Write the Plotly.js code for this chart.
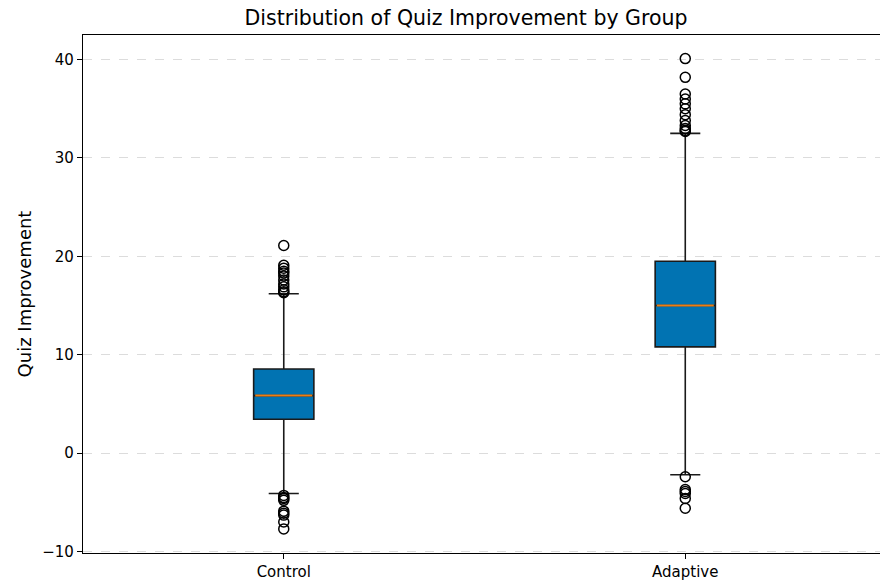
<!DOCTYPE html>
<html>
<head>
<meta charset="utf-8">
<script src="https://cdn.plot.ly/plotly-3.0.1.min.js"></script>
<style>
html,body{margin:0;padding:0;background:#fff;overflow:hidden;}
#chart{width:880px;height:581px;}
</style>
</head>
<body>
<div id="chart"></div>
<script>
// ---- data ----
const groups = ["Control", "Adaptive"];
const positions = [1, 2];
const q1 = [3.45, 10.8];
const medians = [5.85, 15.0];
const q3 = [8.55, 19.5];
const lowerWhisker = [-4.1, -2.2];
const upperWhisker = [16.2, 32.5];
const controlOutliers = [21.1, 19.1, 18.8, 18.5, 18.3, 18.0, 17.6, 17.2, 16.9, 16.6, 16.4, 16.3,
                         -4.3, -4.5, -4.6, -4.8, -5.9, -6.1, -6.3, -7.0, -7.7];
const adaptiveOutliers = [40.1, 38.2, 36.5, 36.0, 35.5, 35.0, 34.4, 33.8, 33.3, 33.0, 32.8, 32.7,
                          -2.4, -3.7, -3.9, -4.1, -4.6, -5.6];
const outliers = [controlOutliers, adaptiveOutliers];

const boxWidth = 0.15;
const boxColor = "#0173b2";
const medianColor = "#ef7d10";

const traces = [{
  type: "box",
  x: positions,
  q1: q1,
  median: medians,
  q3: q3,
  lowerfence: lowerWhisker,
  upperfence: upperWhisker,
  width: boxWidth,
  whiskerwidth: 0.5,
  fillcolor: boxColor,
  line: {color: "#1a1a1a", width: 1.6},
  boxpoints: false,
  hoverinfo: "skip",
  showlegend: false
}];

outliers.forEach((arr, i) => {
  traces.push({
    type: "scatter",
    mode: "markers",
    x: arr.map(() => positions[i]),
    y: arr,
    marker: {symbol: "circle-open", size: 10, color: "#000", line: {width: 1.5, color: "#000"}},
    showlegend: false,
    hoverinfo: "skip"
  });
});

const shapes = positions.map((p, i) => ({
  type: "line", xref: "x", yref: "y",
  x0: p - boxWidth / 2 + 0.004, x1: p + boxWidth / 2 - 0.004,
  y0: medians[i], y1: medians[i],
  line: {color: medianColor, width: 2}
}));

const layout = {
  width: 880, height: 581,
  margin: {l: 83, r: 0, t: 35, b: 28},
  paper_bgcolor: "#fff",
  plot_bgcolor: "#fff",
  font: {family: "DejaVu Sans", color: "#000"},
  title: {
    text: "Distribution of Quiz Improvement by Group",
    font: {size: 20.5, color: "#000"},
    x: 466 / 880, xref: "container", xanchor: "center",
    y: 1 - 18 / 581, yref: "container", yanchor: "middle"
  },
  xaxis: {
    range: [0.5, 2.485],
    tickvals: positions,
    ticktext: groups,
    tickfont: {size: 15},
    ticks: "outside", ticklen: 5, tickcolor: "#000", tickwidth: 1,
    showline: true, linecolor: "#000", linewidth: 1.2, mirror: true,
    showgrid: false, zeroline: false
  },
  yaxis: {
    range: [-10.15, 42.5],
    tickvals: [-10, 0, 10, 20, 30, 40],
    tickfont: {size: 15},
    ticks: "outside", ticklen: 5, tickcolor: "#000", tickwidth: 1,
    showline: true, linecolor: "#000", linewidth: 1.2,
    showgrid: true, gridcolor: "#dcdcdc", griddash: "dash", gridwidth: 1,
    zeroline: false,
    title: {text: "Quiz Improvement", font: {size: 18}, standoff: 5}
  },
  shapes: shapes
};

Plotly.newPlot("chart", traces, layout, {displayModeBar: false, staticPlot: true});
</script>
</body>
</html>
